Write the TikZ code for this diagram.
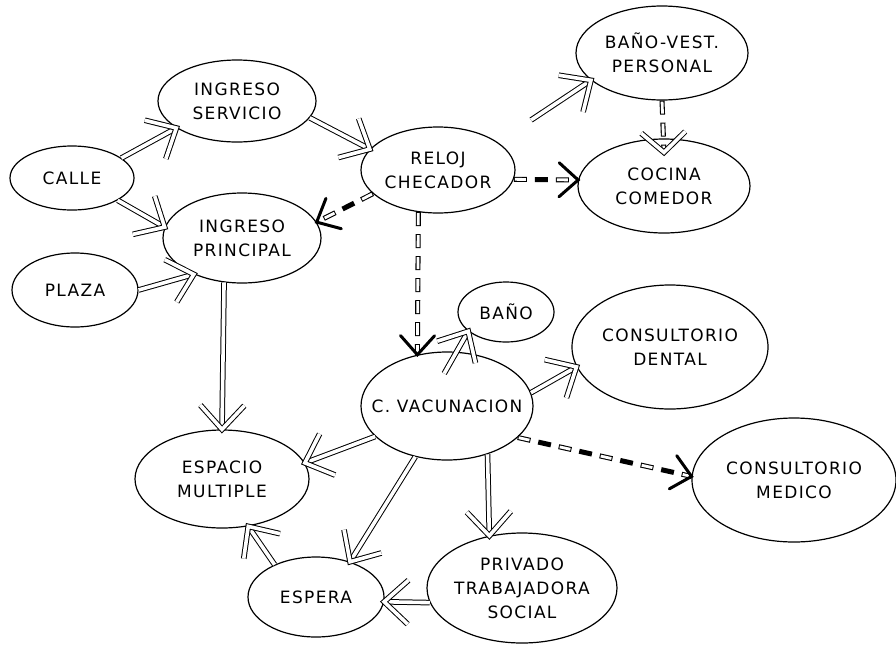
\documentclass[tikz,border=0pt]{standalone}
\usepackage{fontspec}
\setmainfont{DejaVu Sans}[LetterSpace=8]
\usetikzlibrary{shapes.geometric, decorations.markings}

\tikzset{
  place/.style={ellipse, draw, line width=1.2pt, inner xsep=-22pt, inner ysep=-6pt, align=center,
    font=\fontsize{17}{24}\selectfont},
  hhead/.style={draw, solid, line width=1pt, double=white, double distance=3.6pt,
    line join=miter, miter limit=4, shorten <=0pt, shorten >=0pt},
  bhead/.style={draw=black, solid, line width=3pt, line cap=round,
    shorten <=0pt, shorten >=0pt},
  flow/.style={draw, line width=1pt, double=white, double distance=3.6pt,
    postaction={decorate, decoration={markings, mark=at position 1 with
      {\draw[hhead] (-24pt,22pt) -- (0,0) -- (-24pt,-22pt);}}}},
  dflow/.style={draw, line width=5pt, dash pattern=on 13pt off 8pt,
    postaction={draw=white, line width=2.8pt, dash pattern=on 11pt off 31pt, dash phase=41pt},
    postaction={decorate, decoration={markings, mark=at position 1 with
      {\draw[bhead] (-19pt,17pt) -- (0,0) -- (-19pt,-17pt);}}}},
  dhflow/.style={draw, line width=5pt, dash pattern=on 14pt off 8pt,
    postaction={draw=white, line width=2.8pt, dash pattern=on 12pt off 10pt, dash phase=21pt},
    postaction={decorate, decoration={markings, mark=at position 1 with
      {\draw[bhead] (-19pt,17pt) -- (0,0) -- (-19pt,-17pt);}}}},
  dhhflow/.style={draw, line width=5pt, dash pattern=on 14pt off 8pt,
    postaction={draw=white, line width=2.8pt, dash pattern=on 12pt off 10pt, dash phase=21pt},
    postaction={decorate, decoration={markings, mark=at position 1 with
      {\draw[hhead] (-20pt,22pt) -- (0,0) -- (-20pt,-22pt);}}}},
}

\begin{document}
\begin{tikzpicture}[x=1pt, y=-1pt]
\useasboundingbox (0,0) rectangle (896,646);
\fill[white] (0,0) rectangle (896,646);

\node[place, minimum width=124pt, minimum height=64pt] (calle) at (72,178) {CALLE};
\node[place, minimum width=158pt, minimum height=82pt] (ings) at (237,101) {INGRESO\\SERVICIO};
\node[place, minimum width=158pt, minimum height=90pt] (ingp) at (242,238) {INGRESO\\PRINCIPAL};
\node[place, minimum width=126pt, minimum height=74pt] (plaza) at (75,290) {PLAZA};
\node[place, minimum width=154pt, minimum height=86pt] (reloj) at (438,170) {RELOJ\\CHECADOR};
\node[place, minimum width=172pt, minimum height=94pt] (banov) at (662,53) {BAÑO-VEST.\\PERSONAL};
\node[place, minimum width=172pt, minimum height=94pt] (cocina) at (664,186) {COCINA\\COMEDOR};
\node[place, minimum width=96pt, minimum height=60pt] (bano) at (506,312) {BAÑO};
\node[place, minimum width=172pt, minimum height=108pt] (cvac) at (447,406) {C. VACUNACION};
\node[place, minimum width=196pt, minimum height=124pt] (dental) at (670,347) {CONSULTORIO\\DENTAL};
\node[place, minimum width=204pt, minimum height=124pt] (medico) at (794,480) {CONSULTORIO\\MEDICO};
\node[place, minimum width=174pt, minimum height=98pt] (espacio) at (222,479) {ESPACIO\\MULTIPLE};
\node[place, minimum width=136pt, minimum height=80pt] (espera) at (316,597) {ESPERA};
\node[place, minimum width=190pt, minimum height=110pt] (privado) at (522,588) {PRIVADO\\TRABAJADORA\\SOCIAL};

% solid hollow arrows
\draw[flow] (calle.22) -- (ings.204);
\draw[flow] (calle.334) -- (ingp.172);
\draw[flow] (plaza.0) -- (ingp.217);
\draw[flow] (ings.347) -- (reloj.163);
\draw[flow, shorten <=40pt] (reloj.25) -- (banov.201);
\draw[flow] (ingp.248) -- (espacio.90);
\draw[flow, shorten <=-25pt] (cvac.80) -- (bano.207);
\draw[flow] (cvac.9) -- (dental.192);
\draw[flow] (cvac.203) -- (espacio.11);
\draw[flow] (cvac.238) -- (espera.46);
\draw[flow] (cvac.310) -- (privado.122);
\draw[flow] (privado.189) -- (espera.356);
\draw[flow] (espera.142) -- (espacio.299);

% dashed arrows
\draw[dflow] (reloj.200) -- (ingp.12);
\draw[dflow] (reloj.353) -- (cocina.176);
\draw[dflow] (cvac.336) -- (medico.178);
\draw[dhflow] (reloj.245) -- (cvac.120);
\draw[dhhflow] (banov.south) -- ([yshift=-14pt]cocina.north);
\end{tikzpicture}
\end{document}
